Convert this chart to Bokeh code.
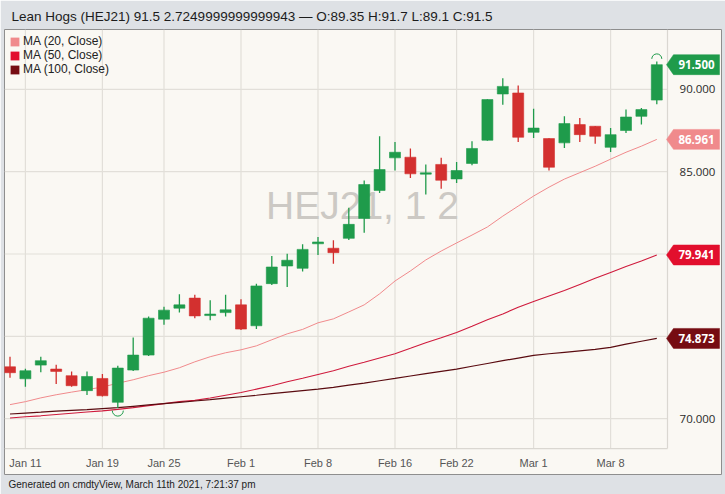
import numpy as np
from bokeh.plotting import figure
from bokeh.models import Range1d, Title, Legend, LegendItem, ColumnDataSource
from bokeh.core.properties import value
from bokeh.embed import file_html
from bokeh.resources import INLINE

# ---------------- data ----------------
dates = ["Jan 8", "Jan 11", "Jan 12", "Jan 13", "Jan 14", "Jan 15", "Jan 19", "Jan 20", "Jan 21", "Jan 22",
         "Jan 25", "Jan 26", "Jan 27", "Jan 28", "Jan 29", "Feb 1", "Feb 2", "Feb 3", "Feb 4", "Feb 5",
         "Feb 8", "Feb 9", "Feb 10", "Feb 11", "Feb 12", "Feb 16", "Feb 17", "Feb 18", "Feb 19",
         "Feb 22", "Feb 23", "Feb 24", "Feb 25", "Feb 26", "Mar 1", "Mar 2", "Mar 3", "Mar 4", "Mar 5",
         "Mar 8", "Mar 9", "Mar 10", "Mar 11"]

opens = [73.15, 72.42, 73.25, 73.01, 72.61, 71.70, 72.44, 70.99, 72.95, 73.86,
         76.04, 76.71, 77.32, 76.26, 76.44, 76.91, 75.64, 78.20, 79.27, 79.13,
         80.62, 80.35, 80.95, 82.16, 83.86, 85.84, 85.88, 84.85, 85.44,
         84.56, 85.50, 86.91, 89.72, 89.78, 87.39, 87.01, 86.75, 87.86, 87.76,
         86.48, 87.50, 88.36, 89.35]
highs = [73.76, 73.03, 73.76, 73.27, 72.87, 72.87, 72.71, 73.21, 74.93, 76.20,
         76.79, 77.56, 77.52, 77.19, 77.52, 77.25, 78.20, 79.88, 80.02, 80.59,
         81.03, 80.83, 82.81, 84.47, 87.15, 86.81, 86.41, 85.44, 85.84,
         85.59, 86.85, 89.40, 90.68, 90.24, 88.83, 87.03, 88.36, 88.26, 87.78,
         87.65, 88.77, 88.87, 91.70]
lows = [72.48, 71.94, 72.81, 72.10, 71.94, 71.44, 71.35, 70.65, 72.90, 73.80,
        75.70, 76.44, 76.10, 75.98, 76.20, 75.38, 75.45, 78.12, 78.00, 78.93,
        79.94, 79.41, 80.85, 81.29, 83.70, 85.07, 84.62, 83.62, 83.96,
        84.32, 85.39, 86.88, 89.07, 86.81, 87.05, 85.07, 86.44, 86.81, 86.69,
        86.20, 87.35, 87.86, 89.10]
closes = [72.79, 72.91, 73.52, 72.87, 72.00, 72.56, 71.39, 73.07, 73.86, 76.10,
          76.59, 76.91, 76.24, 76.35, 76.61, 75.44, 78.06, 79.21, 79.62, 80.28,
          80.73, 80.08, 81.80, 84.22, 85.13, 86.18, 84.87, 84.93, 84.48,
          85.07, 86.41, 89.38, 90.18, 87.09, 87.65, 85.27, 87.92, 87.25, 87.15,
          87.25, 88.32, 88.77, 91.50]

ma20 = [70.85, 71.03, 71.26, 71.45, 71.61, 71.76, 71.92, 72.15, 72.36, 72.61,
        72.82, 73.09, 73.45, 73.76, 74.00, 74.18, 74.42, 74.79, 75.15, 75.42,
        75.82, 76.06, 76.48, 76.91, 77.58, 78.36, 78.97, 79.64, 80.18,
        80.67, 81.15, 81.64, 82.30, 82.91, 83.52, 84.06, 84.55, 84.94, 85.33,
        85.76, 86.18, 86.55, 86.961]
ma50 = [70.04, 70.11, 70.17, 70.25, 70.33, 70.40, 70.47, 70.56, 70.67, 70.79,
        70.91, 71.03, 71.11, 71.25, 71.42, 71.59, 71.79, 72.00, 72.24, 72.45,
        72.68, 72.91, 73.18, 73.42, 73.68, 73.94, 74.27, 74.61, 74.91,
        75.23, 75.61, 76.00, 76.36, 76.76, 77.12, 77.45, 77.78, 78.15, 78.52,
        78.88, 79.24, 79.58, 79.941]
ma100 = [70.28, 70.34, 70.39, 70.45, 70.50, 70.55, 70.61, 70.67, 70.75, 70.83,
         70.91, 70.99, 71.07, 71.15, 71.24, 71.33, 71.42, 71.52, 71.61, 71.70,
         71.79, 71.90, 72.03, 72.16, 72.30, 72.44, 72.59, 72.73, 72.87,
         73.01, 73.18, 73.35, 73.52, 73.68, 73.84, 73.94, 74.03, 74.12, 74.21,
         74.33, 74.52, 74.70, 74.873]

ma_names = ["MA (20, Close)", "MA (50, Close)", "MA (100, Close)"]
tick_dates = ["Jan 11", "Jan 19", "Jan 25", "Feb 1", "Feb 8", "Feb 16", "Feb 22", "Mar 1", "Mar 8"]
price_ticks = [70, 75, 80, 85, 90]

title_text = "Lean Hogs (HEJ21) 91.5 2.7249999999999943 \u2014 O:89.35 H:91.7 L:89.1 C:91.5"
footer_text = "Generated on cmdtyView, March 11th 2021, 7:21:37 pm"
watermark = "HEJ21, 1 2"

# ---------------- styling / geometry ----------------
W, H = 725, 494
FL, FR, FT, FB = 4, 721, 28, 474          # frame edges in page pixels
BAR_PX, X0_PX = 15.4, 9.5                  # pixels per bar, centre of first bar
Y_PX, Y_REF, Y_REF_PX = 16.5, 90.0, 88.0   # pixels per price unit


def xd(px):
    return (px - X0_PX) / BAR_PX


def yd(py):
    return Y_REF - (py - Y_REF_PX) / Y_PX


GREEN = "#1f9b4b"
RED = "#d3302f"
GRID = "#e2dfd9"
C20, C50, C100 = "#f08a8c", "#e20f2d", "#760c12"
L20, L50, L100 = "#f08a8c", "#cf1a3c", "#5a0b10"

p = figure(width=W, height=H, output_backend="svg", toolbar_location=None,
           x_range=Range1d(xd(FL), xd(FR)), y_range=Range1d(yd(FB), yd(FT)),
           x_axis_type=None, y_axis_type=None,
           min_border_left=FL, min_border_right=W - FR,
           min_border_top=FT, min_border_bottom=H - FB)
p.background_fill_color = "#faf8f3"
p.border_fill_color = "#dee1e5"
p.outline_line_color = "#8e8e8e"
p.outline_line_width = 1

p.title.text = title_text
p.title.text_font = "Liberation Sans"
p.title.text_font_size = "13.5px"
p.title.text_font_style = "normal"
p.title.text_color = "#1c1c1c"
p.title.align = "left"
p.title.offset = 7
p.title.standoff = 12

footer = Title(text=footer_text, text_font="Liberation Sans", text_font_size="10px",
               text_font_style="normal", text_color="#222222", align="left", offset=4, standoff=4)
p.add_layout(footer, "below")

idx = np.arange(len(dates))
tick_idx = [dates.index(d) for d in tick_dates]

# grid
plot_right = xd(667)
p.segment(x0=[xd(FL)] * len(price_ticks), y0=price_ticks, x1=[plot_right] * len(price_ticks), y1=price_ticks,
          line_color=GRID, line_width=1.2)
p.segment(x0=tick_idx, y0=[yd(448)] * len(tick_idx), x1=tick_idx, y1=[yd(FT)] * len(tick_idx),
          line_color=GRID, line_width=1.2)
p.segment(x0=[plot_right, xd(FL)], y0=[yd(448), yd(448)], x1=[plot_right, plot_right], y1=[yd(FT), yd(448)],
          line_color="#dad7d1", line_width=1.2)

# watermark
p.text(x=[xd(362)], y=[yd(204)], text=[watermark], text_font=value("Liberation Sans"),
       text_font_size="39px", text_color="#ccc9c4", text_align="center", text_baseline="middle")

# moving averages
p.line(idx, ma20, line_color=L20, line_width=1)
p.line(idx, ma50, line_color=L50, line_width=1.1)
p.line(idx, ma100, line_color=L100, line_width=1.2)

# candles
o = np.array(opens); c = np.array(closes)
up = c >= o
colors = [GREEN if u else RED for u in up]
src = ColumnDataSource(dict(x=idx, o=o, h=highs, l=lows, c=c,
                            top=np.maximum(o, c), bottom=np.minimum(o, c), color=colors))
p.segment(x0="x", y0="l", x1="x", y1="h", line_color="color", line_width=1.3, source=src)
p.vbar(x="x", width=11 / BAR_PX, top="top", bottom="bottom", fill_color="color", line_color="color",
       line_width=0.6, source=src)

# high / low markers
imax = int(np.argmax(highs)); imin = int(np.argmin(lows))
p.arc(x=[imax], y=[highs[imax] + 2.5 / Y_PX], radius=5, radius_units="screen",
      start_angle=0, end_angle=np.pi, line_color=GREEN, line_width=1)
p.arc(x=[imin], y=[lows[imin] - 2.7 / Y_PX], radius=5.5, radius_units="screen",
      start_angle=np.pi, end_angle=2 * np.pi, line_color=GREEN, line_width=1)

# x labels
p.text(x=tick_idx, y=[yd(462)] * len(tick_idx), text=tick_dates, text_font=value("Liberation Sans"),
       text_font_size="11px", text_color="#555555", text_align="center", text_baseline="middle")

# price labels
p.text(x=[xd(697)] * len(price_ticks), y=price_ticks, text=[f"{t:.3f}" for t in price_ticks],
       text_font=value("Open Sans"), text_font_size="11.5px", text_color="#2a2a2a",
       text_align="center", text_baseline="middle")

# last value markers
last_vals = [closes[-1], ma20[-1], ma50[-1], ma100[-1]]
last_cols = [GREEN, C20, C50, C100]
hh = 10 / Y_PX
tip, bl, br = xd(666), xd(673), xd(719)
xs = [[tip, bl, br, br, bl] for _ in last_vals]
ys = [[v, v + hh, v + hh, v - hh, v - hh] for v in last_vals]
p.patches(xs, ys, fill_color=last_cols, line_color=last_cols, line_width=0.5)
p.text(x=[xd(696)] * len(last_vals), y=last_vals, text=[f"{v:.3f}" for v in last_vals],
       text_font=value("Open Sans"), text_font_size="11.5px", text_font_style="bold", text_color="white",
       text_align="center", text_baseline="middle")

# legend (zero-size anchor rects so only the legend swatches show)
series = [ma20, ma50, ma100]
leg_r = [p.rect(x=[idx[0]], y=[s[0]], width=0, height=0, fill_color=col, line_color=None)
         for s, col in zip(series, (C20, C50, C100))]
legend = Legend(items=[LegendItem(label=n, renderers=[r]) for n, r in zip(ma_names, leg_r)],
                location="top_left", margin=0, padding=5, spacing=0,
                glyph_width=11, glyph_height=11, label_height=12, label_standoff=3,
                label_text_font="Liberation Sans", label_text_font_size="12px", label_text_color="#222222",
                background_fill_alpha=0, border_line_alpha=0)
p.add_layout(legend)

open("out.html", "w").write(file_html(p, INLINE))
